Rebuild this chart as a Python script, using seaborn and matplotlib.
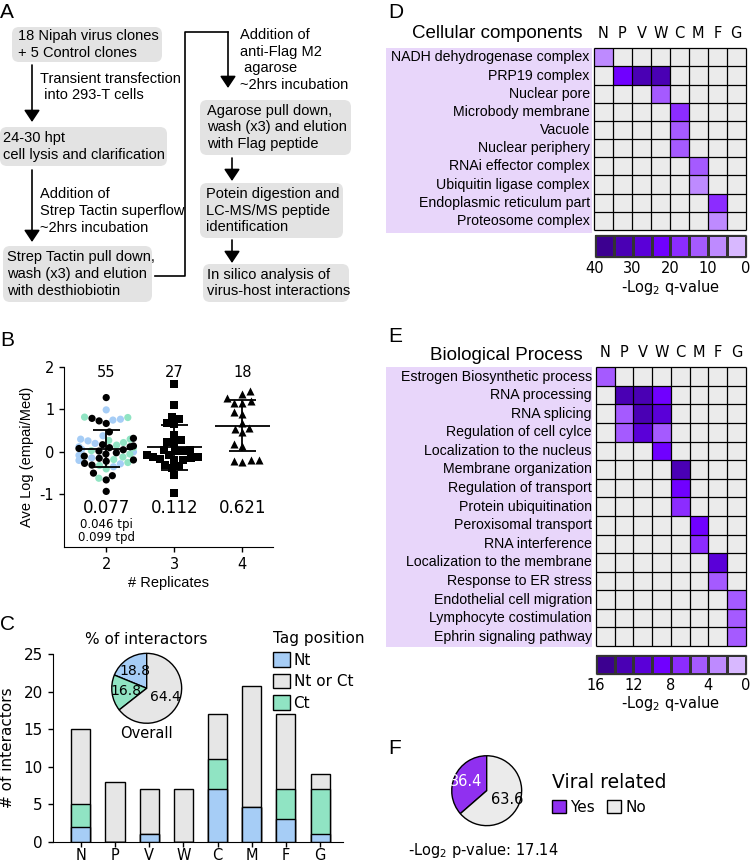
import warnings
import numpy as np
import pandas as pd
import matplotlib
matplotlib.use("Agg")
import matplotlib.pyplot as plt
import seaborn as sns
from matplotlib.colors import ListedColormap
from matplotlib.patches import FancyBboxPatch, Rectangle, Patch

warnings.filterwarnings("ignore")

# ---- data: panel B (ave log empai/med by number of replicates)
rep_labels = ["2", "3", "4"]
rep2_blue = [0.99, 0.77, 0.75, 0.38, 0.30, 0.26, 0.20, 0.12, 0.06, 0.00, -0.08, -0.14, -0.20, -0.28, -0.35]
rep2_green = [0.82, 0.81, 0.30, 0.27, 0.22, 0.16, 0.10, 0.03, -0.05, -0.12, -0.18, -0.25, -0.32, -0.40, -0.62]
rep2_black = [1.28, 0.79, 0.67, 0.73, 0.47, 0.32, 0.14, 0.17, 0.12, 0.08, 0.02, -0.02, 0.05,
              -0.19, -0.22, -0.27, -0.31, -0.15, -0.05, -0.50, -0.56, -0.66, -0.93, 0.10, -0.10]
rep3 = [1.59, 1.11, 0.78, 0.82, 0.65, 0.69, 0.40, 0.24, 0.28, 0.22, 0.05, 0.05, 0.02, 0.01,
        -0.07, -0.12, -0.15, -0.19, -0.19, -0.17, -0.13, -0.08, -0.31, -0.38, -0.33, -0.54, -0.97]
rep4 = [1.36, 1.44, 1.26, 1.21, 1.16, 1.16, 0.93, 0.90, 0.57, 0.67, 0.46, 0.54, 0.19, 0.15,
        -0.20, -0.24, -0.22, -0.19]
rep_means = [0.077, 0.112, 0.621]
rep_sd = [0.44, 0.53, 0.60]
rep2_sub = ["0.046 tpi", "0.099 tpd"]

# ---- data: panel C (interactors per viral protein and tag position)
viral = ["N", "P", "V", "W", "C", "M", "F", "G"]
tag_nt = [2, 0, 1, 0, 7, 4.7, 3, 1]
tag_ct = [3, 0, 0, 0, 4, 0, 4, 6]
tag_any = [10, 8, 6, 7, 6, 16, 10, 2]
pie_names = ["Nt", "Ct", "Nt or Ct"]
pie_vals = [18.8, 16.8, 64.4]

# ---- data: panel D (cellular components, -log2 q-value)
cc_terms = ["NADH dehydrogenase complex", "PRP19 complex", "Nuclear pore", "Microbody membrane",
            "Vacuole", "Nuclear periphery", "RNAi effector complex", "Ubiquitin ligase complex",
            "Endoplasmic reticulum part", "Proteosome complex"]
cc_cells = [("NADH dehydrogenase complex", "N", 6), ("PRP19 complex", "P", 22),
            ("PRP19 complex", "V", 32), ("PRP19 complex", "W", 34), ("Nuclear pore", "W", 12),
            ("Microbody membrane", "C", 16), ("Vacuole", "C", 12), ("Nuclear periphery", "C", 12),
            ("RNAi effector complex", "M", 12), ("Ubiquitin ligase complex", "M", 7),
            ("Endoplasmic reticulum part", "F", 17), ("Proteosome complex", "F", 7)]
cc_ticks = [40, 30, 20, 10, 0]

# ---- data: panel E (biological process, -log2 q-value)
bp_terms = ["Estrogen Biosynthetic process", "RNA processing", "RNA splicing", "Regulation of cell cylce",
            "Localization to the nucleus", "Membrane organization", "Regulation of transport",
            "Protein ubiquitination", "Peroxisomal transport", "RNA interference",
            "Localization to the membrane", "Response to ER stress", "Endothelial cell migration",
            "Lymphocyte costimulation", "Ephrin signaling pathway"]
bp_cells = [("Estrogen Biosynthetic process", "N", 5), ("RNA processing", "P", 13),
            ("RNA processing", "V", 13.5), ("RNA processing", "W", 9), ("RNA splicing", "P", 5),
            ("RNA splicing", "V", 13), ("RNA splicing", "W", 11), ("Regulation of cell cylce", "P", 5),
            ("Regulation of cell cylce", "V", 11), ("Regulation of cell cylce", "W", 5),
            ("Localization to the nucleus", "W", 9), ("Membrane organization", "C", 13),
            ("Regulation of transport", "C", 9), ("Protein ubiquitination", "C", 7),
            ("Peroxisomal transport", "M", 9), ("RNA interference", "M", 7),
            ("Localization to the membrane", "F", 11), ("Response to ER stress", "F", 5),
            ("Endothelial cell migration", "G", 5), ("Lymphocyte costimulation", "G", 5),
            ("Ephrin signaling pathway", "G", 5)]
bp_ticks = [16, 12, 8, 4, 0]

# ---- data: panel F
viral_names = ["Yes", "No"]
viral_pct = [36.4, 63.6]
viral_pval = 17.14

# colours
blue, green, gray = "#a6cdf6", "#90e4c3", "#e6e6e6"
cell_gray = "#ebebeb"
lavender = "#e8d6fa"
box_gray = "#e3e3e3"
purples = ["#d8b8ff", "#be8aff", "#a55aff", "#8c2cff", "#7000ff", "#5a00d8", "#4a00b4", "#3c0090"]
cmap = ListedColormap(purples)
purple = "#9030f0"
LIB = "Liberation Sans"

plt.rcParams["font.family"] = "DejaVu Sans"
plt.rcParams["axes.unicode_minus"] = False

W, H = 750, 865
fig = plt.figure(figsize=(W / 100, H / 100), dpi=100)


def rect(x0, y0, x1, y1):
    return [x0 / W, 1 - y1 / H, (x1 - x0) / W, (y1 - y0) / H]


# overlay in pixel coordinates for flowchart, labels and backgrounds
ov = fig.add_axes([0, 0, 1, 1])
ov.set_xlim(0, W)
ov.set_ylim(H, 0)
ov.axis("off")

for lab, (x, y) in zip("ABCDEF", [(0, 13), (0, 340), (0, 624), (388, 13), (388, 336), (388, 748)]):
    ov.text(x, y, lab, fontsize=15, family=LIB, va="center", ha="left")

# ---- panel A flowchart
boxes = [((12, 27, 162, 62), "18 Nipah virus clones\n+ 5 Control clones", 18),
         ((0, 127, 167, 166), "24-30 hpt\ncell lysis and clarification", 3),
         ((3, 246, 152, 302), "Strep Tactin pull down,\nwash (x3) and elution\nwith desthiobiotin", 7),
         ((200, 100, 351, 155), "Agarose pull down,\nwash (x3) and elution\nwith Flag peptide", 207),
         ((200, 183, 343, 238), "Potein digestion and\nLC-MS/MS peptide\nidentification", 206),
         ((203, 264, 349, 302), "In silico analysis of\nvirus-host interactions", 207)]
for (x0, y0, x1, y1), txt, tx in boxes:
    ov.add_patch(FancyBboxPatch((x0, y0), x1 - x0, y1 - y0, boxstyle="round,pad=0,rounding_size=7",
                                fc=box_gray, ec="none"))
    ov.text(tx, (y0 + y1) / 2, txt, fontsize=10.5, family=LIB, va="center", ha="left", linespacing=1.25)

arrow = dict(arrowstyle="-|>,head_length=0.6,head_width=0.4", color="k", lw=1.2, mutation_scale=12,
             shrinkA=0, shrinkB=0)
for x, y0, y1 in [(32, 65, 122), (32, 170, 242), (228, 32, 88), (232, 158, 181), (232, 240, 263)]:
    ov.annotate("", xy=(x, y1), xytext=(x, y0), arrowprops=arrow)
ov.plot([155, 185, 185, 228], [276, 276, 32, 32], color="k", lw=1.2)
ov.text(40, 87, "Transient transfection\n into 293-T cells", fontsize=10.5, family=LIB, va="center",
        linespacing=1.25)
ov.text(40, 211, "Addition of\nStrep Tactin superflow\n~2hrs incubation", fontsize=10.5, family=LIB,
        va="center", linespacing=1.25)
ov.text(240, 60, "Addition of\nanti-Flag M2\n agarose\n~2hrs incubation", fontsize=10.5, family=LIB,
        va="center", linespacing=1.25)

# lavender backgrounds behind GO term labels
ov.add_patch(Rectangle((386, 48), 206, 185, fc=lavender, ec="none"))
ov.add_patch(Rectangle((386, 367), 206, 280, fc=lavender, ec="none"))

# ---- panel B
axB = fig.add_axes(rect(64, 367, 273, 547))
axB.set_facecolor("none")
df2 = pd.DataFrame({"rep": "2",
                    "val": rep2_blue + rep2_green + rep2_black,
                    "kind": ["blue"] * len(rep2_blue) + ["green"] * len(rep2_green) + ["black"] * len(rep2_black)})
sns.swarmplot(data=df2, x="rep", y="val", hue="kind", order=rep_labels,
              palette={"blue": blue, "green": green, "black": "black"}, size=5.2, legend=False, ax=axB)
sns.swarmplot(x=["3"] * len(rep3), y=rep3, order=rep_labels, color="black", marker="s", size=5.2, ax=axB)
sns.swarmplot(x=["4"] * len(rep4), y=rep4, order=rep_labels, color="black", marker="^", size=5.8, ax=axB)
groups = [rep2_blue + rep2_green + rep2_black, rep3, rep4]
for i, (m, s) in enumerate(zip(rep_means, rep_sd)):
    axB.hlines(m, i - 0.4, i + 0.4, color="k", lw=1.3, zorder=5)
    axB.hlines([m - s, m + s], i - 0.2, i + 0.2, color="k", lw=1.3, zorder=5)
    axB.vlines(i, m - s, m + s, color="k", lw=1.3, zorder=5)
    axB.text(i, 1.88, str(len(groups[i])), ha="center", va="center", fontsize=10.5)
    axB.text(i, -1.32, f"{m:.3f}", ha="center", va="center", fontsize=12)
axB.text(0, -1.72, rep2_sub[0], ha="center", va="center", fontsize=8.5)
axB.text(0, -2.02, rep2_sub[1], ha="center", va="center", fontsize=8.5)
axB.set_xlim(-0.62, 2.45)
axB.set_ylim(-2.24, 2)
axB.set_yticks([-1, 0, 1, 2])
axB.tick_params(labelsize=10.5, length=3.5, width=1)
axB.set_xlabel("# Replicates", fontsize=10.5, family=LIB, labelpad=3)
axB.set_ylabel("Ave Log (empai/Med)", fontsize=10.5, family=LIB, labelpad=4)
sns.despine(ax=axB)

# ---- panel C stacked bars
axC = fig.add_axes(rect(52.7, 654, 343, 842))
axC.set_facecolor("none")
dfc = pd.DataFrame({"virus": viral, "nt": tag_nt, "ct": tag_ct, "any": tag_any})
dfc["ntct"] = dfc["nt"] + dfc["ct"]
dfc["total"] = dfc["ntct"] + dfc["any"]
for col, c in [("total", gray), ("ntct", green), ("nt", blue)]:
    sns.barplot(data=dfc, x="virus", y=col, color=c, saturation=1, edgecolor="k", linewidth=1,
                width=0.56, errorbar=None, ax=axC)
axC.set_xlim(-0.82, 7.67)
axC.set_ylim(0, 25)
axC.set_yticks(range(0, 26, 5))
axC.tick_params(labelsize=11, length=3.5, width=1)
axC.tick_params(axis="x", labelsize=10.5, pad=1)
axC.set_xlabel("")
axC.set_ylabel("# of interactors", fontsize=11, labelpad=6)
sns.despine(ax=axC)

axP = fig.add_axes(rect(110.7, 652.3, 182.7, 724.3))
axP.pie(pie_vals, colors=[blue, green, gray], startangle=90, counterclock=True,
        wedgeprops=dict(edgecolor="k", linewidth=1), autopct="%.1f", pctdistance=0.6,
        textprops=dict(fontsize=10))
axP.set_xlim(-1.03, 1.03)
axP.set_ylim(-1.03, 1.03)
axP.set_aspect("equal")
ov.text(146, 639, "% of interactors", ha="center", va="center", fontsize=11)
ov.text(146, 733, "Overall", ha="center", va="center", fontsize=10.5)
fig.legend(handles=[Patch(fc=blue, ec="k"), Patch(fc=gray, ec="k"), Patch(fc=green, ec="k")],
           labels=["Nt", "Nt or Ct", "Ct"], title="Tag position", loc="upper left",
           bbox_to_anchor=(273 / W, 1 - 631 / H), frameon=False, fontsize=11, title_fontsize=11,
           handlelength=1.1, handleheight=1.1, handletextpad=0.25, labelspacing=0.4,
           borderpad=0, borderaxespad=0, alignment="left")


# ---- panels D and E heatmaps
def go_heatmap(cells, terms, vmax, grid_box, cbar_box, ticks, title, title_y):
    df = (pd.DataFrame(cells, columns=["term", "virus", "q"])
          .pivot(index="term", columns="virus", values="q")
          .reindex(index=terms, columns=viral))
    ax = fig.add_axes(rect(*grid_box))
    sns.heatmap(df, cmap=cmap, vmin=0, vmax=vmax, cbar=False, linewidths=0, ax=ax)
    ax.set_facecolor(cell_gray)
    ax.hlines(range(len(terms) + 1), 0, len(viral), color="k", lw=0.9, clip_on=False)
    ax.vlines(range(len(viral) + 1), 0, len(terms), color="k", lw=0.9, clip_on=False)
    ax.xaxis.tick_top()
    ax.set_xticklabels(viral, fontsize=10.5)
    ax.set_yticklabels(terms, fontsize=10.2, family=LIB, rotation=0)
    ax.tick_params(length=0)
    ax.tick_params(axis="x", pad=5)
    ax.tick_params(axis="y", pad=3)
    ax.set_xlabel("")
    ax.set_ylabel("")
    ov.text(583, title_y, title, ha="right", va="center", fontsize=13.5, family=LIB)

    axc = fig.add_axes(rect(*cbar_box))
    step = vmax / len(purples)
    bins = np.arange(vmax, 0, -step) - step / 2
    sns.heatmap([bins], cmap=cmap, vmin=0, vmax=vmax, cbar=False, linewidths=0.8,
                linecolor="#333333", ax=axc)
    axc.hlines([0, 1], 0, len(bins), color="#333333", lw=0.9, clip_on=False)
    axc.vlines([0, len(bins)], 0, 1, color="#333333", lw=0.9, clip_on=False)
    axc.set_xticks(np.linspace(0, len(bins), len(ticks)))
    axc.set_xticklabels([str(t) for t in ticks], fontsize=10.5, rotation=0)
    axc.set_yticks([])
    axc.tick_params(length=0, pad=3)
    axc.set_xlabel("-Log$_2$ q-value", fontsize=10.5, labelpad=1)
    return ax


go_heatmap(cc_cells, cc_terms, 40, (594, 48.3, 745.7, 230), (595, 235, 745.7, 257), cc_ticks,
           "Cellular components", 33)
go_heatmap(bp_cells, bp_terms, 16, (596, 367.3, 745.7, 646), (596, 655, 745.7, 673.5), bp_ticks,
           "Biological Process", 355)

# ---- panel F
axF = fig.add_axes(rect(450.7, 754.7, 522.7, 826.7))
_, _, pct_txt = axF.pie(viral_pct, colors=[purple, cell_gray], startangle=90, counterclock=True,
                        wedgeprops=dict(edgecolor="k", linewidth=1), autopct="%.1f", pctdistance=0.64,
                        textprops=dict(fontsize=10.5))
pct_txt[0].set_color("white")
axF.set_xlim(-1.03, 1.03)
axF.set_ylim(-1.03, 1.03)
axF.set_aspect("equal")
fig.legend(handles=[Patch(fc=purple, ec="k"), Patch(fc=cell_gray, ec="k")], labels=viral_names,
           title="Viral related", loc="upper left", bbox_to_anchor=(552 / W, 1 - 773 / H), ncol=2,
           frameon=False, fontsize=11, title_fontsize=13.5, handlelength=0.9, handleheight=0.9,
           handletextpad=0.3, columnspacing=0.8, borderpad=0, borderaxespad=0, alignment="left")
ov.text(483, 850, f"-Log$_2$ p-value: {viral_pval}", ha="center", va="center", fontsize=10.5)

fig.savefig("out.png", dpi=100)
